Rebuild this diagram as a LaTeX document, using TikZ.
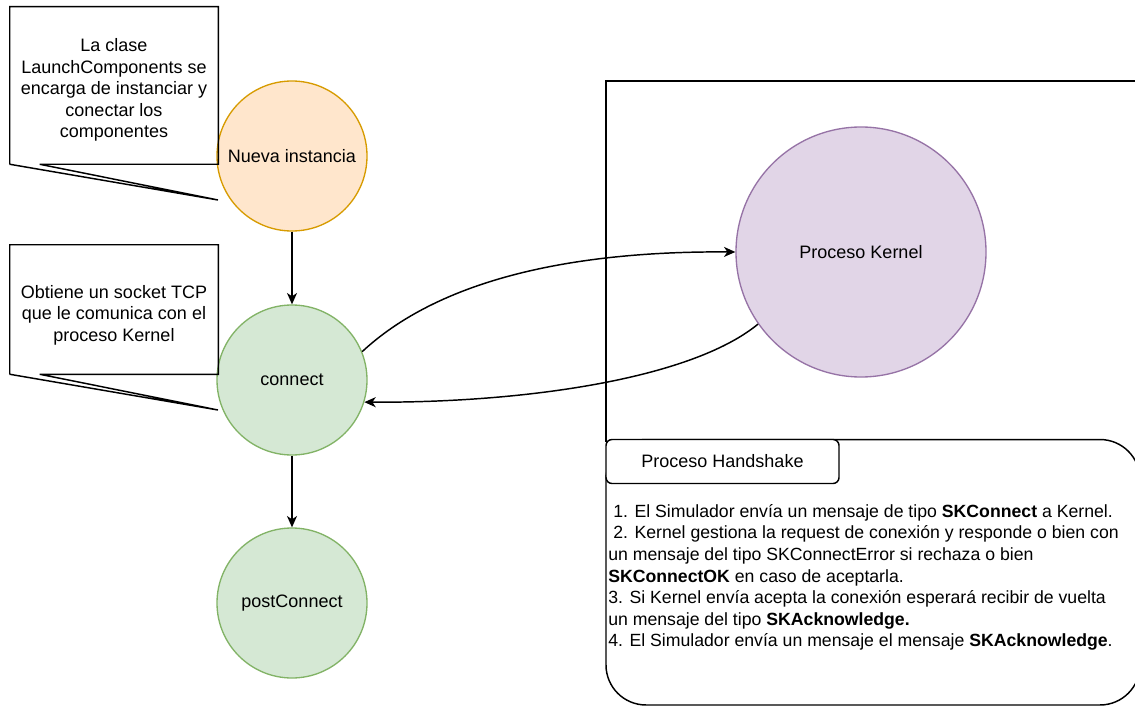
\documentclass[tikz,border=0pt]{standalone}
\usepackage{fontspec}
\setmainfont{Liberation Sans}
\usetikzlibrary{arrows.meta}

\definecolor{orangefill}{HTML}{FFE6CC}
\definecolor{orangeline}{HTML}{D79B00}
\definecolor{greenfill}{HTML}{D5E8D4}
\definecolor{greenline}{HTML}{82B366}
\definecolor{purplefill}{HTML}{E1D5E7}
\definecolor{purpleline}{HTML}{9673A6}

\begin{document}
\begin{tikzpicture}[x=0.75pt, y=-0.75pt,
  every node/.style={font=\fontsize{13.5pt}{16.2pt}\selectfont, text=black},
  stage/.style={circle, draw=greenline, fill=greenfill, line width=1pt,
                minimum size=112.5pt, inner sep=0pt},
  startstage/.style={stage, draw=orangeline, fill=orangefill},
  procnode/.style={circle, draw=purpleline, fill=purplefill, line width=1pt,
                   minimum size=187.5pt, inner sep=0pt},
  notebox/.style={rectangle, draw=none, inner sep=0pt, minimum width=156pt},
  notetext/.style={inner sep=0pt, align=center},
  noteline/.style={draw=black, line width=1.1pt, line join=miter},
  flow/.style={draw=black, line width=1.1pt,
               -{Stealth[length=8.5pt, width=7.5pt, inset=2.5pt]}},
  framebox/.style={draw=black, line width=1.1pt},
  tagbox/.style={rectangle, rounded corners=4.5pt, draw=black, fill=white,
                 line width=1.1pt, minimum width=174.75pt, minimum height=33pt, inner sep=0pt},
  steptext/.style={anchor=north west, inner sep=0pt, align=left,
                   font=\fontsize{13.25pt}{16.2pt}\selectfont}
]
\useasboundingbox (0,0) rectangle (1135,706);
\clip (0,0) rectangle (1135,706);

% outer frame of the Kernel side
\coordinate (frameTL) at (606,81);
\coordinate (frameTR) at (1160,81);
\coordinate (frameBL) at (606,442);
\draw[framebox] (frameBL) -- (frameTL) -- (frameTR);

% handshake description box
\node[rectangle, rounded corners=30pt, draw=black, line width=1.1pt,
      minimum width=400.5pt, minimum height=199.1pt, inner sep=0pt]
      (handshake) at (873,572.25) {};
\node[tagbox] (tag) at (722.5,461.5) {Proceso Handshake};
\node[steptext] (steps) at (608,504) {%
\hspace*{3.75pt}1. El Simulador envía un mensaje de tipo \textbf{SKConnect} a Kernel.\\
\hspace*{3.75pt}2. Kernel gestiona la request de conexión y responde o bien con\\
un mensaje del tipo SKConnectError si rechaza o bien\\
\textbf{SKConnectOK} en caso de aceptarla.\\
3. Si Kernel envía acepta la conexión esperará recibir de vuelta\\
un mensaje del tipo \textbf{SKAcknowledge.}\\
4. El Simulador envía un mensaje el mensaje \textbf{SKAcknowledge}.};

% lifecycle stages
\node[startstage] (nueva) at (292,156) {Nueva instancia};
\node[stage] (connect) at (292,380) {connect};
\node[stage] (post) at (292,603) {postConnect};
\node[procnode] (kernel) at (861,252) {Proceso Kernel};

\draw[flow] (nueva) -- (connect);
\draw[flow] (connect) -- (post);
\draw[flow] (connect.22) .. controls (450,270) and (600,251) .. (kernel.west);
\draw[flow] (kernel.215) .. controls (690,380) and (520,403) .. (connect.-17);

% annotations
\node[notebox, minimum height=117.75pt] (note1) at (114,85.5) {};
\node[notetext] (note1text) at (114,90)
  {La clase\\LaunchComponents se\\encarga de instanciar y\\conectar los\\componentes};
\coordinate (tip1) at (218,200);
\draw[noteline] (note1.south west) -- (note1.north west) -- (note1.north east)
  -- (note1.south east) -- ([xshift=22.5pt]note1.south west) -- (tip1) -- (note1.south west);

\node[notebox, minimum height=96.75pt] (note2) at (114,309.5) {};
\node[notetext] (note2text) at (114,315)
  {Obtiene un socket TCP\\que le comunica con el\\proceso Kernel};
\coordinate (tip2) at (218,410);
\draw[noteline] (note2.south west) -- (note2.north west) -- (note2.north east)
  -- (note2.south east) -- ([xshift=22.5pt]note2.south west) -- (tip2) -- (note2.south west);
\end{tikzpicture}
\end{document}
